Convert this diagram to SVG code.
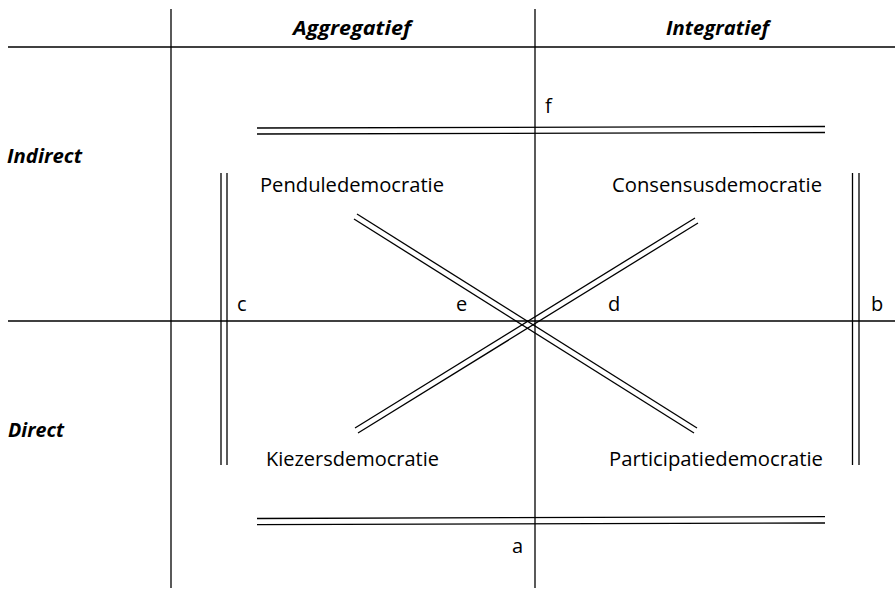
<svg xmlns="http://www.w3.org/2000/svg" width="895" height="590" viewBox="0 0 895 590">
<style>
.ln{stroke:#000;stroke-width:1.3;fill:none}
.hd{font-family:"Open Sans","Liberation Sans",sans-serif;font-weight:bold;font-style:italic;font-size:19.5px;fill:#000}
.lb{font-family:"Open Sans","Liberation Sans",sans-serif;font-size:20px;fill:#000}
</style>
<rect width="895" height="590" fill="#fff"/>
<g id="connectors">
<line class="ln" x1="171" y1="9" x2="171" y2="588"/>
<line class="ln" x1="535" y1="9" x2="535" y2="588"/>
<line class="ln" x1="8" y1="47" x2="895" y2="47"/>
<line class="ln" x1="8" y1="321" x2="895" y2="321"/>
<g id="f-line"><line class="ln" x1="257" y1="128" x2="825" y2="126.5"/><line class="ln" x1="257" y1="134" x2="825" y2="132.5"/></g>
<g id="a-line"><line class="ln" x1="257" y1="518.5" x2="825" y2="516.7"/><line class="ln" x1="257" y1="524.7" x2="825" y2="523"/></g>
<g id="c-line"><line class="ln" x1="221" y1="173" x2="221" y2="465"/><line class="ln" x1="227" y1="173" x2="227" y2="465"/></g>
<g id="b-line"><line class="ln" x1="852.5" y1="173" x2="852.5" y2="465"/><line class="ln" x1="859" y1="173" x2="859" y2="465"/></g>
<g id="e-line"><line class="ln" x1="357" y1="214" x2="697" y2="428"/><line class="ln" x1="354" y1="219" x2="694" y2="433"/></g>
<g id="d-line"><line class="ln" x1="695" y1="218" x2="355" y2="428"/><line class="ln" x1="698" y1="223" x2="358" y2="433"/></g>
</g>
<g id="header-aggregatief"><text class="hd" x="293" y="35" textLength="118" lengthAdjust="spacingAndGlyphs">Aggregatief</text></g>
<g id="header-integratief"><text class="hd" x="666" y="35" textLength="103" lengthAdjust="spacingAndGlyphs">Integratief</text></g>
<g id="row-indirect"><text class="hd" x="7" y="163" textLength="75" lengthAdjust="spacingAndGlyphs">Indirect</text></g>
<g id="row-direct"><text class="hd" x="8" y="437" textLength="56" lengthAdjust="spacingAndGlyphs">Direct</text></g>
<g id="node-pendule"><text class="lb" x="260" y="192" textLength="184" lengthAdjust="spacingAndGlyphs">Penduledemocratie</text></g>
<g id="node-consensus"><text class="lb" x="612" y="192" textLength="210" lengthAdjust="spacingAndGlyphs">Consensusdemocratie</text></g>
<g id="node-kiezers"><text class="lb" x="266" y="466" textLength="173" lengthAdjust="spacingAndGlyphs">Kiezersdemocratie</text></g>
<g id="node-participatie"><text class="lb" x="609" y="466" textLength="214" lengthAdjust="spacingAndGlyphs">Participatiedemocratie</text></g>
<g id="labels">
<text class="lb" x="545" y="113">f</text>
<text class="lb" x="237" y="311">c</text>
<text class="lb" x="456" y="311">e</text>
<text class="lb" x="608" y="311">d</text>
<text class="lb" x="871" y="311">b</text>
<text class="lb" x="512" y="553">a</text>
</g>
</svg>
